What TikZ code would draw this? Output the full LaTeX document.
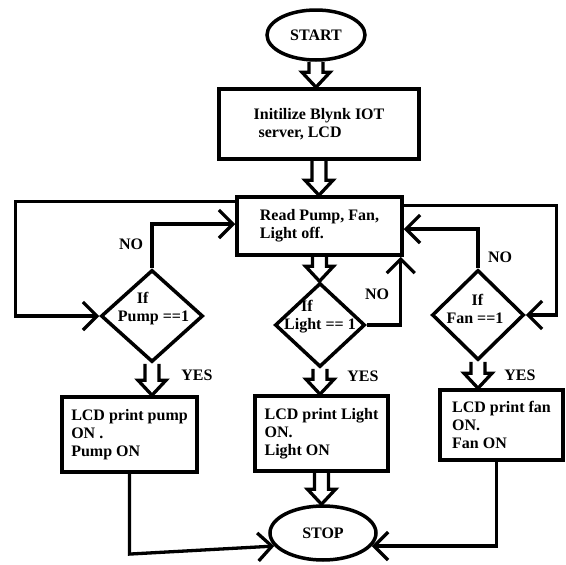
\documentclass[tikz,border=0pt]{standalone}
\usepackage{fontspec}
\setmainfont{Liberation Serif}
\usetikzlibrary{shapes.geometric,arrows.meta,calc}
\newcommand\hollowarrow[2]{%
  \draw[blockar] let \p1=(#1), \p2=(#2) in
    (\x1-7pt,\y1) -- (\x1-7pt,\y2+15pt) -- (\x1-14pt,\y2+15pt) -- (\x1,\y2)
    -- (\x1+14pt,\y2+15pt) -- (\x1+7pt,\y2+15pt) -- (\x1+7pt,\y1);}
\tikzset{
  every node/.style={font=\fontsize{16}{18}\selectfont\bfseries},
  proc/.style={draw, rectangle, line width=3.5pt, align=left, inner sep=0pt},
  term/.style={draw, ellipse, line width=3.5pt, inner sep=0pt},
  decis/.style={draw, diamond, line width=3.5pt, inner sep=0pt},
  conn/.style={line width=3.3pt, -{Straight Barb[length=14pt,width=28pt]}},
  blockar/.style={line width=3.3pt, line join=miter},
  lab/.style={inner sep=0pt, align=left}
}
\begin{document}
\begin{tikzpicture}[x=1pt,y=-1pt]
\useasboundingbox (0,0) rectangle (566,565);
% terminals and processes
\node[term, minimum width=98pt, minimum height=50pt] (start) at (316,35) {START};
\node[proc, minimum width=200pt, minimum height=70pt] (init) at (319,124) {Initilize Blynk IOT\\\hspace*{5pt}server, LCD};
\node[proc, minimum width=165pt, minimum height=58pt] (read) at (319.5,226) {Read Pump, Fan,\\Light off.};
% decisions
\node[decis, minimum width=102pt, minimum height=92pt] (pump) at (152,316) {};
\node[lab] at (153.5,309) {\hspace*{19pt}If\\Pump ==1};
\node[decis, minimum width=90pt, minimum height=84pt] (light) at (320,325) {};
\node[lab] at (320,317) {\hspace*{17pt}If\\Light == 1};
\node[decis, minimum width=92pt, minimum height=90pt] (fan) at (478,315) {};
\node[lab] at (475,309) {\hspace*{25pt}If\\Fan ==1};
% output boxes
\node[proc, minimum width=135pt, minimum height=75pt] (pumpbox) at (129.5,434.5) {LCD print pump\\ON .\\Pump ON};
\node[proc, minimum width=133pt, minimum height=75pt] (lightbox) at (321.5,433.5) {LCD print Light\\ON.\\Light ON};
\node[proc, minimum width=123pt, minimum height=70pt] (fanbox) at (501.5,425) {LCD print fan\\ON.\\Fan ON};
\node[term, minimum width=106pt, minimum height=54pt] (stop) at (323,533) {STOP};
% block arrows
\hollowarrow{start.south}{init.north}
\hollowarrow{init.south}{read.north}
\hollowarrow{read.south}{light.north}
\hollowarrow{pump.south}{pumpbox.north}
\hollowarrow{light.south}{lightbox.north}
\hollowarrow{fan.south}{fanbox.north}
\hollowarrow{lightbox.south}{stop.north}
% line connectors
\draw[conn] ([yshift=-6pt]read.north west) -| ([xshift=-84pt]pump.west) -- (pump.west);
\draw[conn] (pump.north) |- ([yshift=2pt]read.west);
\draw[conn] (light.east) -| ([xshift=-3pt]read.south east);
\draw[conn] (fan.north) |- ([yshift=-3pt]read.east);
\draw[conn] ([yshift=-10pt]read.north east) -| ([xshift=31pt]fan.east) -- (fan.east);
\draw[conn] (pumpbox.south) -- ($(pumpbox.south |- stop.195)+(0,8)$) -- (stop.195);
\draw[conn] ([xshift=-5pt]fanbox.south) |- (stop.345);
% labels
\node[lab] at (131,244) {NO};
\node[lab] at (377,294) {NO};
\node[lab] at (500,257) {NO};
\node[lab] at (197,375) {YES};
\node[lab] at (363,376) {YES};
\node[lab] at (520,375) {YES};
\end{tikzpicture}
\end{document}
